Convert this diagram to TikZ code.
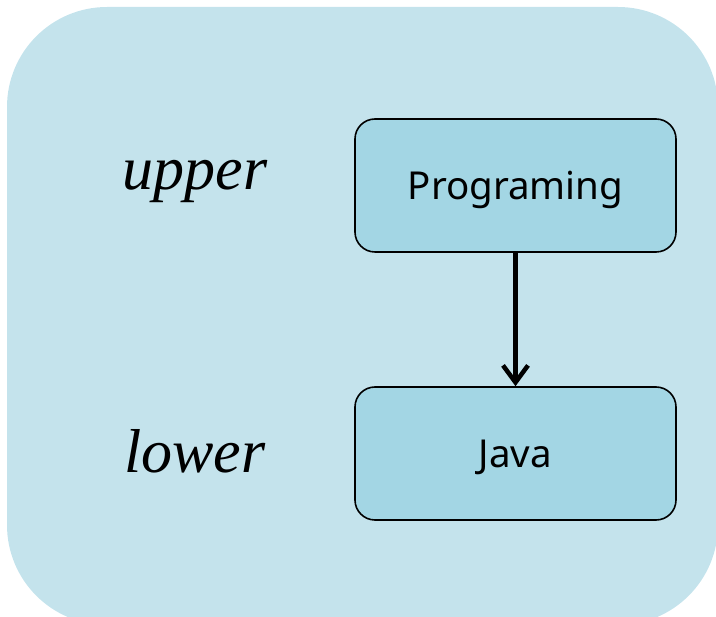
\documentclass[tikz,border=0pt]{standalone}
\usepackage{fontspec}
\setmainfont{Liberation Serif}
\setsansfont{Noto Sans}
\usetikzlibrary{arrows.meta,positioning}

\definecolor{layerblue}{HTML}{C4E3EC}
\definecolor{boxblue}{HTML}{A3D6E4}

\begin{document}
\begin{tikzpicture}[x=1pt,y=-1pt,node distance=268pt,
				box/.style={rectangle,draw,fill=boxblue,line width=1.6pt,
									rounded corners=20pt,minimum width=321pt,
									minimum height=133pt,text height=38pt,text depth=9pt,
									font=\sffamily\fontsize{38.5}{42}\selectfont},
				layer/.style={font=\itshape\fontsize{62}{64}\selectfont,anchor=base}]
\path[ use as bounding box ] (0,0) rectangle (716,617);
\clip (0,0) rectangle (716,617);

  \fill[layerblue, rounded corners=100pt] (7,7) rectangle (718,625);

	\node[box] (prog) at (515.5,185.5) {Programing};
	\node[box] (java) [below of=prog] {Java};

	\node[layer] (upper) at (195,190) {upper};
	\node[layer] (lower) at (195,473) {lower};

  \draw[-{Straight Barb[length=17pt,width=25pt]},line width=4.5pt] (prog) -- (java);
\end{tikzpicture}
\end{document}
